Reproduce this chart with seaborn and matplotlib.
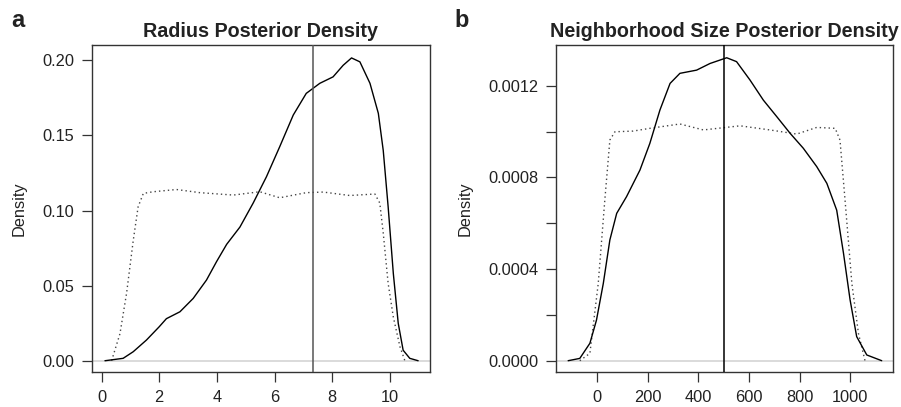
import matplotlib
matplotlib.use("Agg")
import matplotlib.pyplot as plt
import seaborn as sns
import numpy as np
import pandas as pd

sns.set_style("white")
plt.rcParams['font.family'] = ['Liberation Sans', 'DejaVu Sans']

# panel a: radius
rad_x = [0.12, 0.75, 1.1, 1.56, 2.0, 2.25, 2.72, 3.18, 3.64, 3.99, 4.34, 4.8, 5.26, 5.72,
         6.18, 6.65, 7.1, 7.57, 8.03, 8.38, 8.67, 8.96, 9.31, 9.6, 9.77, 9.94, 10.12,
         10.29, 10.46, 10.69, 10.98]
rad_post = [0.0, 0.0016, 0.006, 0.0138, 0.0226, 0.028, 0.0326, 0.0415, 0.0537, 0.066,
            0.0775, 0.089, 0.105, 0.1225, 0.1425, 0.1636, 0.178, 0.1847, 0.189, 0.1967,
            0.2016, 0.199, 0.1847, 0.1647, 0.140, 0.1025, 0.058, 0.0249, 0.007, 0.0016, 0.0]
rad_px = [0.35, 0.64, 0.87, 1.1, 1.27, 1.45, 1.79, 2.6, 3.41, 4.57, 5.49, 6.18, 7.1, 7.69,
          8.61, 9.48, 9.65, 9.77, 9.94, 10.12, 10.35, 10.52]
rad_prior = [0.0, 0.018, 0.045, 0.080, 0.1025, 0.1114, 0.1125, 0.114, 0.1119, 0.1103,
             0.1125, 0.1085, 0.1119, 0.1123, 0.110, 0.111, 0.105, 0.085, 0.0515, 0.029,
             0.0093, 0.0]
rad_mode = 7.34

# panel b: neighborhood size
nb_x = [-115, -69, -29, -3, 24, 50, 77, 116, 169, 208, 248, 288, 327, 393, 446, 512, 551,
        604, 657, 710, 763, 815, 868, 908, 947, 974, 1000, 1026, 1066, 1125]
nb_post = [0.0, 0.00001, 0.000076, 0.000177, 0.000337, 0.000527, 0.000643, 0.000716,
           0.000832, 0.000948, 0.001094, 0.00121, 0.001254, 0.001268, 0.001297, 0.001322,
           0.001305, 0.001225, 0.001137, 0.001065, 0.000992, 0.000927, 0.000847, 0.000774,
           0.000657, 0.000468, 0.000265, 0.000105, 0.000025, 0.0]
nb_px = [-69, -29, 4, 30, 50, 70, 142, 208, 327, 420, 565, 683, 789, 868, 941, 960, 980,
         1007, 1033, 1059]
nb_prior = [0.0, 0.000032, 0.000337, 0.000701, 0.000963, 0.000999, 0.001002, 0.001014,
            0.001033, 0.001007, 0.001025, 0.001007, 0.000989, 0.001018, 0.001014, 0.000963,
            0.000701, 0.000337, 0.000119, 0.0]
nb_mode = 501

fig = plt.figure(figsize=(9.01, 4.07), dpi=100)
ax1 = fig.add_axes([0.1021, 0.086, 0.3751, 0.8034])
ax2 = fig.add_axes([0.6171, 0.086, 0.3744, 0.8034])

txt = '#222222'


def panel(ax, px, py, qx, qy, mode, vcol, title, letter, lx):
    ax.axhline(0, color='#d4d4d4', lw=1.2, zorder=1)
    sns.lineplot(x=qx, y=qy, ax=ax, color='#444444', lw=1.0, linestyle=(0, (1, 2.2)),
                 sort=False, estimator=None, zorder=2)
    sns.lineplot(x=px, y=py, ax=ax, color='black', lw=1.0, sort=False, estimator=None,
                 zorder=3)
    ax.axvline(mode, color=vcol, lw=1.1, zorder=4)
    ax.set_title(title, fontsize=14.2, fontweight='bold', color=txt, pad=6)
    ax.set_ylabel('Density', fontsize=11.8, color=txt, labelpad=11)
    ax.set_xlabel('')
    for s in ax.spines.values():
        s.set_color('#333333')
        s.set_linewidth(1.0)
    ax.tick_params(axis='both', length=7.2, width=0.9, color='#333333', labelsize=11.8,
                   labelcolor=txt, pad=5.5, left=True, bottom=True)
    fig.text(lx, 0.934, letter, fontsize=17, fontweight='bold', color=txt,
             ha='left', va='baseline')


panel(ax1, rad_x, rad_post, rad_px, rad_prior, rad_mode, '#555555',
      'Radius Posterior Density', 'a', 0.012)
ax1.set_xlim(-0.33, 11.39)
ax1.set_ylim(-0.0075, 0.2102)
ax1.set_xticks([0, 2, 4, 6, 8, 10])
ax1.set_yticks([0.0, 0.05, 0.10, 0.15, 0.20])
ax1.set_yticklabels(['0.00', '0.05', '0.10', '0.15', '0.20'])

panel(ax2, nb_x, nb_post, nb_px, nb_prior, nb_mode, 'black',
      'Neighborhood Size Posterior Density', 'b', 0.504)
ax2.set_xlim(-163, 1171)
ax2.set_ylim(-0.0000493, 0.0013776)
ax2.set_xticks([0, 200, 400, 600, 800, 1000])
yt = [0.0, 0.0002, 0.0004, 0.0006, 0.0008, 0.0010, 0.0012]
ax2.set_yticks(yt)
ax2.set_yticklabels(['0.0000', '', '0.0004', '', '0.0008', '', '0.0012'])

fig.savefig('out.png', dpi=100)
